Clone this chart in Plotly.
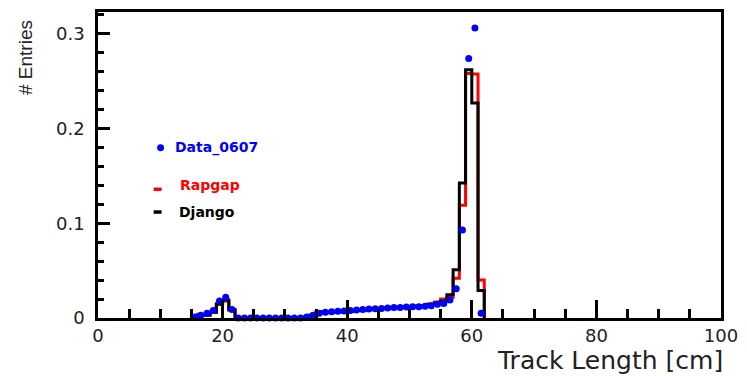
import plotly.graph_objects as go

# ---------------- data ----------------
bin_low = [15, 16, 17, 18, 19, 20, 21, 22, 23, 24, 25, 26, 27, 28, 29, 30,
           31, 32, 33, 34, 35, 36, 37, 38, 39, 40, 41, 42, 43, 44, 45, 46,
           47, 48, 49, 50, 51, 52, 53, 54, 55, 56, 57, 58, 59, 60, 61]
bin_width = 1.0

rapgap = [0.002, 0.004, 0.004, 0.006, 0.015, 0.018, 0.009,
          0, 0, 0, 0, 0, 0, 0, 0, 0, 0, 0,
          0.001, 0.003, 0.006, 0.0062, 0.0064, 0.0066, 0.007, 0.0074, 0.008,
          0.0085, 0.009, 0.0094, 0.0098, 0.0102, 0.0108, 0.0112, 0.0116,
          0.012, 0.0125, 0.0132, 0.0148, 0.017, 0.020, 0.022,
          0.042, 0.119, 0.258, 0.2575, 0.040]

django = [0.002, 0.003, 0.003, 0.006, 0.0146, 0.019, 0.0084,
          0, 0, 0, 0, 0, 0, 0, 0, 0, 0, 0,
          0.0008, 0.003, 0.0066, 0.0066, 0.0066, 0.0066, 0.0068, 0.0072, 0.0078,
          0.0084, 0.009, 0.0095, 0.010, 0.0105, 0.011, 0.0114, 0.0118,
          0.0122, 0.0126, 0.013, 0.0145, 0.0155, 0.018, 0.0245,
          0.051, 0.1425, 0.262, 0.227, 0.029]

data_0607 = [0.001, 0.003, 0.005, 0.008, 0.018, 0.022, 0.009,
             0, 0, 0, 0, 0, 0, 0, 0, 0, 0, 0,
             0.001, 0.003, 0.005, 0.006, 0.0065, 0.007, 0.0075, 0.008, 0.0085,
             0.009, 0.0095, 0.0098, 0.010, 0.0105, 0.011, 0.0112, 0.0115,
             0.0118, 0.012, 0.0125, 0.013, 0.0145, 0.0154, 0.019,
             0.031, 0.093, 0.274, 0.306, 0.005]

x_ticks = [0, 20, 40, 60, 80, 100]
y_ticks = [0, 0.1, 0.2, 0.3]
y_ticktext = ["0", "0.1", "0.2", "0.3"]
x_range = [0, 100]
y_range = [0, 0.323]

# ---------------- layout geometry ----------------
W, H = 747, 376
L, R, T, B = 98, 22, 9, 58
PW, PH = W - L - R, H - T - B


def px(x):
    return (x - L) / PW


def py(y):
    return (H - B - y) / PH


def step_xy(vals):
    xs = [bin_low[0]] + bin_low + [bin_low[-1] + bin_width]
    ys = [0] + list(vals) + [0]
    return xs, ys


fig = go.Figure()

for vals, col in [(rapgap, "#ff0000"), (django, "#000000")]:
    xs, ys = step_xy(vals)
    fig.add_trace(go.Scatter(x=xs, y=ys, mode="lines", line_shape="hv",
                             line=dict(color=col, width=3), showlegend=False,
                             hoverinfo="skip"))

centers = [b + bin_width / 2 for b in bin_low]
fig.add_trace(go.Scatter(x=centers, y=data_0607, mode="markers",
                         marker=dict(color="#0000ff", size=7, line=dict(width=0)),
                         cliponaxis=False, showlegend=False))

axis_common = dict(showline=True, linecolor="black", linewidth=2.5, mirror=True,
                   ticks="inside", tickcolor="black", tickwidth=2.5,
                   showgrid=False, zeroline=False, layer="above traces",
                   tickfont=dict(family="DejaVu Sans", size=18, color="#222222"))

fig.update_xaxes(range=x_range, tickmode="array", tickvals=x_ticks, ticklen=18,
                 minor=dict(ticks="inside", ticklen=9, tickwidth=2.5, tickcolor="black",
                            dtick=5, tick0=0, showgrid=False),
                 ticklabelstandoff=0, **axis_common)
fig.update_yaxes(range=y_range, tickmode="array", tickvals=y_ticks, ticktext=y_ticktext,
                 ticklen=12,
                 minor=dict(ticks="inside", ticklen=6, tickwidth=2.5, tickcolor="black",
                            dtick=0.02, tick0=0, showgrid=False),
                 ticklabelstandoff=7, **axis_common)

shapes = [
    dict(type="circle", xref="paper", yref="paper",
         x0=px(157.5), x1=px(164.5), y0=py(149.5), y1=py(142.5),
         fillcolor="#0000ff", line=dict(width=0)),
    dict(type="line", xref="paper", yref="paper",
         x0=px(154), x1=px(162), y0=py(188), y1=py(188),
         line=dict(color="#ff0000", width=3.5)),
    dict(type="line", xref="paper", yref="paper",
         x0=px(154), x1=px(162), y0=py(211), y1=py(211),
         line=dict(color="#000000", width=3.5)),
]

leg_font = dict(family="DejaVu Sans", size=14, weight="bold")
annotations = [
    dict(text="Data_0607", x=px(173), y=py(146), xref="paper", yref="paper",
         xanchor="left", yanchor="middle", showarrow=False,
         font=dict(color="#0000ff", **leg_font)),
    dict(text="Rapgap", x=px(179), y=py(183.5), xref="paper", yref="paper",
         xanchor="left", yanchor="middle", showarrow=False,
         font=dict(color="#ff0000", **leg_font)),
    dict(text="Django", x=px(178), y=py(211), xref="paper", yref="paper",
         xanchor="left", yanchor="middle", showarrow=False,
         font=dict(color="#000000", **leg_font)),
    dict(text="Track Length [cm]", x=px(729), y=py(361), xref="paper", yref="paper",
         xanchor="right", yanchor="middle", showarrow=False,
         font=dict(family="DejaVu Sans", size=25, color="#222222")),
    dict(text="# Entries", x=px(25), y=py(55), xref="paper", yref="paper",
         xanchor="center", yanchor="middle", textangle=-90, showarrow=False,
         font=dict(family="Liberation Sans", size=19, color="#222222")),
]

fig.update_layout(width=W, height=H, margin=dict(l=L, r=R, t=T, b=B, pad=0),
                  paper_bgcolor="white", plot_bgcolor="white",
                  shapes=shapes, annotations=annotations, showlegend=False)

fig.write_html("out.html")
